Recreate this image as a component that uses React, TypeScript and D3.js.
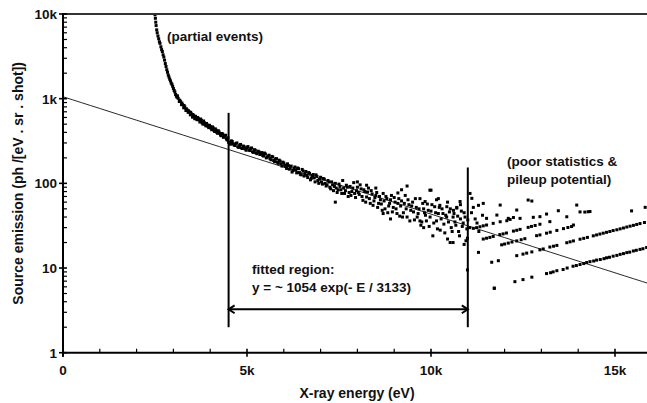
import React from 'react';
import * as d3 from 'd3';

// ---------- data ----------
const xMajorTicks = [0, 5000, 10000, 15000];
const xMajorLabels = ['0', '5k', '10k', '15k'];
const yMajorTicks = [1, 10, 100, 1000, 10000];
const yMajorLabels = ['1', '10', '100', '1k', '10k'];

const fitAmplitude = 1054;
const fitScale = 3133;
const fitRange = [4500, 11000];

// partial events (steep rise at low energy)
const partialEvents: [number, number][] = [
  [2495, 10500], [2500, 9800], [2510, 8900], [2520, 8000], [2530, 7300], [2546, 6500], [2560, 6000],
  [2580, 5500], [2600, 5100], [2620, 4700], [2636, 4500], [2660, 4100], [2680, 3800],
  [2700, 3600], [2720, 3300], [2740, 3100], [2760, 2850], [2780, 2600], [2800, 2400],
  [2820, 2200], [2840, 2050], [2860, 1900], [2880, 1800], [2900, 1700], [2920, 1620],
  [2940, 1530], [2960, 1480], [2980, 1400], [3000, 1320], [3020, 1250], [3040, 1200],
  [3060, 1120], [3080, 1070], [3100, 1040], [3130, 1010], [3160, 925], [3190, 930],
  [3220, 850], [3250, 850], [3280, 780], [3310, 800], [3340, 725], [3370, 740],
  [3400, 690], [3430, 700], [3460, 645], [3490, 660], [3520, 605], [3550, 630],
  [3580, 580], [3600, 620], [3640, 565], [3680, 580], [3720, 530], [3760, 555],
  [3800, 500], [3840, 520], [3880, 478], [3920, 490], [3960, 455], [4000, 470],
  [4040, 430], [4080, 452], [4120, 410], [4160, 425], [4200, 390], [4240, 405],
  [4280, 372], [4320, 388], [4360, 350], [4400, 362], [4440, 335], [4480, 345],
];

const partialFill: [number, number][] = [
  [3110, 1080], [3170, 960], [3230, 890], [3290, 830], [3350, 760], [3410, 720], [3470, 690],
  [3530, 650], [3590, 610], [3620, 590], [3660, 600], [3700, 560], [3740, 575], [3780, 520],
  [3820, 545], [3860, 500], [3900, 510], [3940, 470], [3980, 485], [4020, 450], [4060, 465],
  [4100, 425], [4140, 440], [4180, 400], [4220, 418], [4260, 388], [4300, 365], [4340, 380],
  [4380, 355], [4420, 370], [4460, 325],
];

// main cloud
const cloud: [number, number][] = [
  [4500, 305], [4550, 290], [4600, 312], [4650, 284], [4700, 296], [4750, 270], [4800, 282],
  [4850, 262], [4900, 276], [4950, 255], [5000, 264], [5050, 248], [5100, 258], [5150, 236],
  [5200, 250], [5250, 228], [5300, 240], [5350, 219], [5400, 231], [5450, 210], [5500, 222],
  [5550, 204], [5600, 215], [5650, 190], [5700, 205], [5750, 180], [5800, 196], [5850, 172],
  [5900, 183], [5950, 160], [6000, 174], [6050, 158], [6100, 170], [6150, 147], [6200, 160],
  [6250, 142], [6300, 156], [6350, 133], [6400, 149], [6450, 128], [6500, 146], [6550, 122],
  [6600, 138], [6650, 117], [6700, 131], [6750, 115], [6800, 127], [6850, 104], [6900, 121],
  [6950, 100], [7000, 118], [7050, 98], [7100, 112], [7150, 93], [7200, 108], [7250, 90],
  [7300, 104], [7350, 82], [7400, 100], [7450, 78], [7500, 98], [7550, 84], [7600, 108],
  [7650, 76], [7700, 95], [7750, 70], [7800, 92], [7850, 80], [7900, 102], [7950, 68],
  [8000, 90], [8050, 74], [8100, 86], [8150, 63], [8200, 80], [8250, 69], [8300, 88],
  [8350, 58], [8400, 75], [8450, 62], [8500, 72], [8550, 52], [8600, 70], [8650, 57],
  [8700, 76], [8750, 50], [8800, 66], [8850, 54], [8900, 64], [8950, 46], [9000, 68],
  [9050, 50], [9100, 58], [9150, 41], [9200, 62], [9250, 45], [9300, 72], [9350, 40],
  [9400, 56], [9450, 48], [9500, 60], [9550, 37], [9600, 52], [9650, 44], [9700, 66],
  [9750, 35], [9800, 50], [9850, 42], [9900, 57], [9950, 31], [10000, 47], [10050, 24],
  [10100, 53], [10150, 36], [10200, 44], [10250, 28], [10300, 50], [10350, 33], [10400, 42],
  [10450, 22], [10500, 46], [10550, 30], [10600, 40], [10650, 35], [10700, 52], [10750, 27],
  [10800, 38], [10850, 31], [10900, 45], [10950, 21], [11000, 37],
];

const cloudFill: [number, number][] = [
  [4525, 296], [4575, 318], [4625, 292], [4675, 280], [4725, 300], [4775, 266], [4825, 288],
  [4875, 258], [4925, 270], [4975, 246], [5025, 272], [5075, 244], [5125, 262], [5175, 232],
  [5225, 246], [5275, 224], [5325, 236], [5375, 226], [5425, 214], [5475, 228], [5525, 200],
  [5575, 210], [5625, 196], [5675, 208], [5725, 186], [5775, 194], [5825, 178], [5875, 188],
  [5925, 170], [5975, 178], [6025, 164], [6075, 150], [6125, 162], [6175, 154], [6225, 136],
  [6275, 150], [6325, 144], [6375, 152], [6425, 134], [6475, 126], [6525, 140], [6575, 130],
  [6625, 124], [6675, 134], [6725, 110], [6775, 124], [6825, 116], [6875, 126], [6925, 108],
  [6975, 112], [7025, 104], [7075, 114], [7125, 100], [7175, 96], [7225, 104], [7275, 86],
  [7325, 96], [7375, 92], [7425, 88], [7475, 84], [7525, 92], [7575, 76], [7625, 88],
  [7675, 82], [7725, 90], [7775, 78], [7825, 72], [7875, 88], [7925, 76], [7975, 82],
  [8025, 78], [8075, 96], [8125, 70], [8175, 84], [8225, 60], [8275, 79], [8325, 66],
  [8375, 82], [8425, 55], [8475, 68], [8525, 78], [8575, 58], [8625, 64], [8675, 48],
  [8725, 62], [8775, 70], [8825, 45], [8875, 58], [8925, 72], [8975, 52], [9025, 60],
  [9075, 44], [9125, 66], [9175, 54], [9225, 40], [9275, 58], [9325, 50], [9375, 64],
  [9425, 36], [9475, 54], [9525, 46], [9575, 66], [9625, 40], [9675, 50], [9725, 32],
  [9775, 58], [9825, 45], [9875, 36], [9925, 48], [9975, 40], [10025, 56], [10075, 34],
  [10125, 45], [10175, 29], [10225, 52], [10275, 38], [10325, 44], [10375, 26], [10425, 40],
  [10475, 35], [10525, 50], [10575, 27], [10625, 44], [10675, 32], [10725, 41], [10775, 24],
  [10825, 47], [10875, 34], [10925, 40], [10975, 29],
];

const cloudOutliers: [number, number][] = [
  [7400, 60], [8000, 104], [8700, 44], [9200, 84], [9350, 93], [8250, 95], [9800, 30],
  [10000, 83], [10450, 60], [10600, 20], [10900, 19], [9700, 36], [8900, 38], [8500, 88],
  [9100, 77], [10200, 66], [10800, 56], [9840, 61], [10150, 64], [10240, 55], [10430, 53],
  [10610, 48], [10700, 51], [10790, 61], [9970, 83], [10520, 20], [10990, 22.5], [10990, 9.5],
];

// tail: quantised rows (1, 2, 3, 4 events ...)
const tailRow1: [number, number][] = [
  [11720, 5.8], [12280, 6.9], [12500, 7.3], [12740, 7.8], [13140, 8.6], [13250, 8.8],
  [13320, 9.0], [13420, 9.3], [13590, 9.6], [13700, 10.0], [13860, 10.5], [13950, 10.7],
  [14050, 11.0], [14150, 11.3], [14230, 11.6], [14320, 11.9], [14420, 12.1], [14500, 12.4],
  [14600, 12.6], [14700, 12.9], [14770, 13.2], [14850, 13.4], [14950, 13.8], [15050, 14.1],
  [15140, 14.5], [15230, 14.8], [15320, 15.2], [15400, 15.4], [15500, 15.9], [15580, 16.2],
  [15680, 16.6], [15760, 16.9], [15860, 17.5],
];

const tailRow2: [number, number][] = [
  [11650, 11.7], [11830, 12.2], [12330, 14.0], [12500, 14.6], [12600, 15.0], [12740, 15.5],
  [12960, 16.4], [13050, 16.8], [13230, 17.7], [13330, 18.1], [13420, 18.5], [13690, 19.9],
  [13780, 20.4], [13870, 20.9], [14050, 21.9], [14150, 22.4], [14250, 23.0], [14410, 24.0],
  [14500, 24.6], [14590, 25.2], [14680, 25.8], [14770, 26.4], [14860, 27.0], [14950, 27.7],
  [15050, 28.3], [15140, 29.0], [15230, 29.7], [15320, 30.5], [15410, 31.2], [15500, 31.9],
  [15590, 32.7], [15680, 33.5], [15800, 34.5],
];

const tailRow3: [number, number][] = [
  [11920, 18.8], [12000, 19.2], [12100, 19.7], [12200, 20.3], [12330, 20.9], [12450, 21.6],
  [12550, 22.2], [12870, 24.1], [12960, 24.6], [13140, 25.8], [13240, 26.5], [13420, 27.8],
  [13600, 29.2], [13720, 30.1], [13820, 30.9], [13870, 32.2], [15450, 47.3], [15820, 52.1],
];

const tailRow4: [number, number][] = [
  [11420, 22.0], [11510, 22.5], [11600, 23.0], [11690, 23.6], [11870, 24.8], [11960, 25.3],
  [12050, 25.9], [12240, 27.3], [12330, 27.9], [12420, 28.6], [12640, 30.2], [12730, 31.0],
  [12830, 31.8], [12960, 32.9], [13230, 35.3], [14050, 46.0], [14180, 45.8], [14320, 46.5],
];

const tailRow5: [number, number][] = [
  [11150, 29.4], [11240, 30.0], [11330, 30.7], [11420, 31.5], [11510, 32.2], [11690, 33.7],
  [11880, 35.2], [12060, 36.2], [12150, 37.5], [12240, 39.5], [12420, 38.6], [12780, 39.7],
  [12960, 40.4], [13140, 43.4], [13690, 40.3],
];

const tailScatter: [number, number][] = [
  [11290, 55], [11420, 58], [11510, 38.6], [11790, 42.2], [11880, 55.4], [12100, 38.6],
  [12330, 48.4], [12640, 63.5], [12740, 61.8], [13460, 47.5], [13960, 55.4], [14270, 46.2],
  [11060, 76], [11110, 66.5], [11290, 15.3], [11720, 5.75],
  [11100, 45], [11200, 38], [11050, 30], [11300, 27], [11150, 52], [11250, 34], [11400, 42],
];

// ---------- layout ----------
const W = 647;
const H = 403;
const plotLeft = 63;
const plotTop = 14;
const plotBottom = 352.7;
const plotRightFull = 651.8;
const FONT = '"Liberation Sans", Arial, sans-serif';

export default function App() {
  const x = d3.scaleLinear().domain([0, 16000]).range([plotLeft, plotRightFull]);
  const y = d3.scaleLog().domain([1, 10000]).range([plotBottom, plotTop]);

  const allPoints = [
    ...partialEvents, ...partialFill, ...cloud, ...cloudFill, ...cloudOutliers,
    ...tailRow1, ...tailRow2, ...tailRow3, ...tailRow4, ...tailRow5, ...tailScatter,
  ];

  const fitLine = d3
    .line<number>()
    .x((e) => x(e))
    .y((e) => y(fitAmplitude * Math.exp(-e / fitScale)));
  const fitEnergies = d3.range(0, 16001, 250);

  const xMinor = d3.range(1000, 16001, 1000).filter((v) => v % 5000 !== 0);
  const yMinor: number[] = [];
  for (let d = 1; d < 10000; d *= 10) for (let k = 2; k <= 9; k++) yMinor.push(d * k);

  const x45 = x(fitRange[0]);
  const x110 = x(fitRange[1]);
  const vBottom = y(2.0);
  const arrowY = y(3.25);
  const ah = 6;

  const txt = { fontFamily: FONT, fontWeight: 'bold' as const, fill: '#111' };

  return (
    <div style={{ position: 'absolute', left: 0, top: 0 }}>
      <svg width={W} height={H} style={{ display: 'block', background: '#fff' }}>
        <defs>
          <clipPath id="plotClip">
            <rect x={plotLeft} y={plotTop} width={W - plotLeft} height={plotBottom - plotTop} />
          </clipPath>
        </defs>
        <rect x={0} y={0} width={W} height={H} fill="#fff" />

        <g clipPath="url(#plotClip)">
          <path d={fitLine(fitEnergies) || ''} fill="none" stroke="#111" strokeWidth={0.9} />
          {allPoints.map(([e, v], i) => (
            <rect key={i} x={x(e) - 1.5} y={y(v) - 1.5} width={3} height={3} fill="#000" />
          ))}
        </g>

        {/* top border */}
        <line x1={plotLeft} x2={W} y1={plotTop} y2={plotTop} stroke="#333" strokeWidth={2} />

        {/* y axis */}
        <line x1={plotLeft} x2={plotLeft} y1={plotTop - 1} y2={plotBottom + 4} stroke="#000" strokeWidth={2} />
        {yMajorTicks.map((t, i) => (
          <g key={'ym' + i}>
            <line x1={plotLeft - 4} x2={plotLeft + 4} y1={y(t)} y2={y(t)} stroke="#000" strokeWidth={1.6} />
            <text x={plotLeft - 6} y={y(t)} dy="0.36em" textAnchor="end" fontSize={13.5} {...txt}>
              {yMajorLabels[i]}
            </text>
          </g>
        ))}
        {yMinor.map((t, i) => (
          <line key={'yn' + i} x1={plotLeft} x2={plotLeft + 4} y1={y(t)} y2={y(t)} stroke="#000" strokeWidth={1.2} />
        ))}

        {/* x axis */}
        <line x1={plotLeft - 1} x2={W} y1={plotBottom} y2={plotBottom} stroke="#000" strokeWidth={2} />
        {xMajorTicks.map((t, i) => (
          <g key={'xm' + i}>
            <line x1={x(t)} x2={x(t)} y1={plotBottom - 4} y2={plotBottom + 4} stroke="#000" strokeWidth={1.6} />
            <text x={x(t)} y={plotBottom + 22} textAnchor="middle" fontSize={13.5} {...txt}>
              {xMajorLabels[i]}
            </text>
          </g>
        ))}
        {xMinor.map((t, i) => (
          <line key={'xn' + i} x1={x(t)} x2={x(t)} y1={plotBottom - 4} y2={plotBottom} stroke="#000" strokeWidth={1.2} />
        ))}

        {/* axis titles */}
        <text x={357} y={398} textAnchor="middle" fontSize={14} {...txt}>
          X-ray energy (eV)
        </text>
        <text
          transform={`translate(23, ${(plotTop + plotBottom) / 2}) rotate(-90)`}
          textAnchor="middle"
          fontSize={14}
          {...txt}
        >
          Source emission (ph /[eV . sr . shot])
        </text>

        {/* fitted region markers */}
        <line x1={x45} x2={x45} y1={y(680)} y2={vBottom} stroke="#000" strokeWidth={2} />
        <line x1={x110} x2={x110} y1={y(154)} y2={vBottom} stroke="#000" strokeWidth={2} />
        <line x1={x45} x2={x110} y1={arrowY} y2={arrowY} stroke="#000" strokeWidth={2} />
        <path
          d={`M${x45 + ah},${arrowY - ah * 0.65} L${x45},${arrowY} L${x45 + ah},${arrowY + ah * 0.65}`}
          fill="none" stroke="#000" strokeWidth={2}
        />
        <path
          d={`M${x110 - ah},${arrowY - ah * 0.65} L${x110},${arrowY} L${x110 - ah},${arrowY + ah * 0.65}`}
          fill="none" stroke="#000" strokeWidth={2}
        />

        {/* annotations */}
        <text x={252} y={274} fontSize={13.5} {...txt}>fitted region:</text>
        <text x={252} y={292} fontSize={13.5} {...txt}>y = ~ 1054 exp(- E / 3133)</text>
        <text x={167} y={41} fontSize={13.5} {...txt}>(partial events)</text>
        <text x={507} y={166} fontSize={13.5} {...txt}>(poor statistics &amp;</text>
        <text x={507} y={184} fontSize={13.5} {...txt}>pileup potential)</text>
      </svg>
    </div>
  );
}
